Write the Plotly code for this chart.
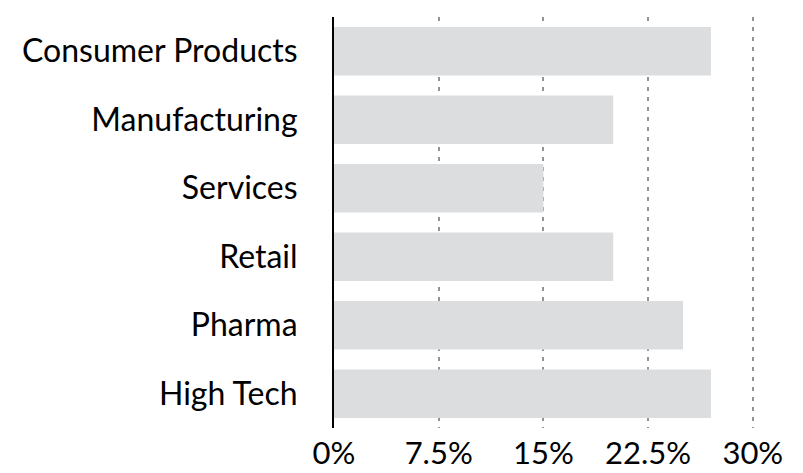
import plotly.graph_objects as go

categories = ["Consumer Products", "Manufacturing", "Services", "Retail", "Pharma", "High Tech"]
values = [27, 20, 15, 20, 25, 27]
tick_vals = [0, 7.5, 15, 22.5, 30]
tick_text = ["0%", "7.5%", "15%", "22.5%", "30%"]

fig = go.Figure(go.Bar(
    x=values,
    y=categories,
    orientation="h",
    marker=dict(color="#DCDDDF", line=dict(width=0)),
    width=0.71,
    hoverinfo="skip",
))

# page body has an 8px default margin, so the figure is sized to fit inside it
fig.update_layout(
    width=795, height=465,
    margin=dict(l=326, r=46, t=9, b=45, autoexpand=False),
    paper_bgcolor="white", plot_bgcolor="white",
    font=dict(family="Lato", size=32, color="black"),
    showlegend=False,
    bargap=0.29,
)
fig.update_xaxes(
    range=[0, 30.3],
    tickvals=tick_vals, ticktext=tick_text,
    tickfont=dict(size=31),
    showgrid=True, gridcolor="#939393", griddash="4px,6px", gridwidth=2,
    zeroline=False, showline=False, ticks="",
    automargin=False,
    ticklabelstandoff=4,
)
fig.update_yaxes(
    autorange="reversed",
    showline=True, linecolor="black", linewidth=2,
    showgrid=False, zeroline=False, ticks="",
    automargin=False,
    ticklabelstandoff=28,
)

fig.write_html("out.html")
